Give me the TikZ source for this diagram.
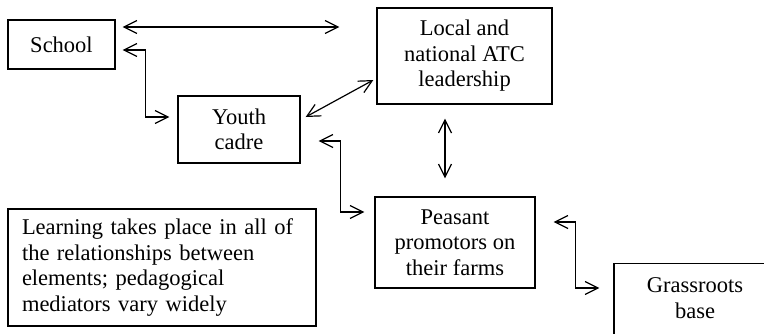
\documentclass[tikz,border=0pt]{standalone}
\usepackage{fontspec}
\setmainfont{Liberation Serif}
\usetikzlibrary{arrows.meta,calc}
\begin{document}
\begin{tikzpicture}[x=0.5pt,y=-0.5pt,
  box/.style={draw,line width=0.65pt,inner sep=0pt,align=center,
    font=\fontsize{11.25pt}{12.75pt}\selectfont},
  link/.style={line width=0.6pt,
    {Straight Barb[length=6.5pt,width=6.5pt]}-{Straight Barb[length=6.5pt,width=6.5pt]}}]
\useasboundingbox (0,0) rectangle (764,333);
\clip (0,0) rectangle (764,333);
\node[box,minimum width=53.5pt,minimum height=24.5pt] (school) at (61.5,44.5) {School};
\node[box,minimum width=61pt,minimum height=33.5pt] (youth) at (239,129.5) {Youth\\cadre};
\node[box,minimum width=87.5pt,minimum height=48pt] (leadership) at (464.5,56) {Local and\\national ATC\\leadership};
\node[box,minimum width=80pt,minimum height=45.5pt] (peasant) at (455,242.5) {Peasant\\promotors on\\their farms};
\node[box,align=left,text width=140pt,inner xsep=7pt,minimum height=58.5pt] (learning) at (162,267.5)
  {Learning takes place in all of\\the relationships between\\elements; pedagogical\\mediators vary widely};
\node[box,minimum width=81pt,minimum height=45pt,text depth=10.85pt,anchor=north] (grass) at (695,263) {Grassroots\\base};
% connectors
\draw[link] ($(school.east)+(7,-17.5)$) -- ($(leadership.west)+(-37,-29)$);
\draw[link] ($(school.east)+(7,5.5)$) -| ($(youth.west)+(-32,-12.5)$) -- ($(youth.west)+(-8,-12.5)$);
\draw[link] ($(youth.east)+(5,-12.5)$) -- ($(leadership.west)+(-3,24)$);
\draw[link] ($(youth.east)+(18,11.5)$) -| ($(peasant.west)+(-34,-30.5)$) -- ($(peasant.west)+(-10,-30.5)$);
\draw[link] ($(leadership.south)+(-19.5,14)$) -- ($(peasant.north)+(-10,-18)$);
\draw[link] ($(peasant.east)+(18,-20.5)$) -| ($(grass.north west)+(-38,25)$) -- ($(grass.north west)+(-14,25)$);
\end{tikzpicture}
\end{document}
